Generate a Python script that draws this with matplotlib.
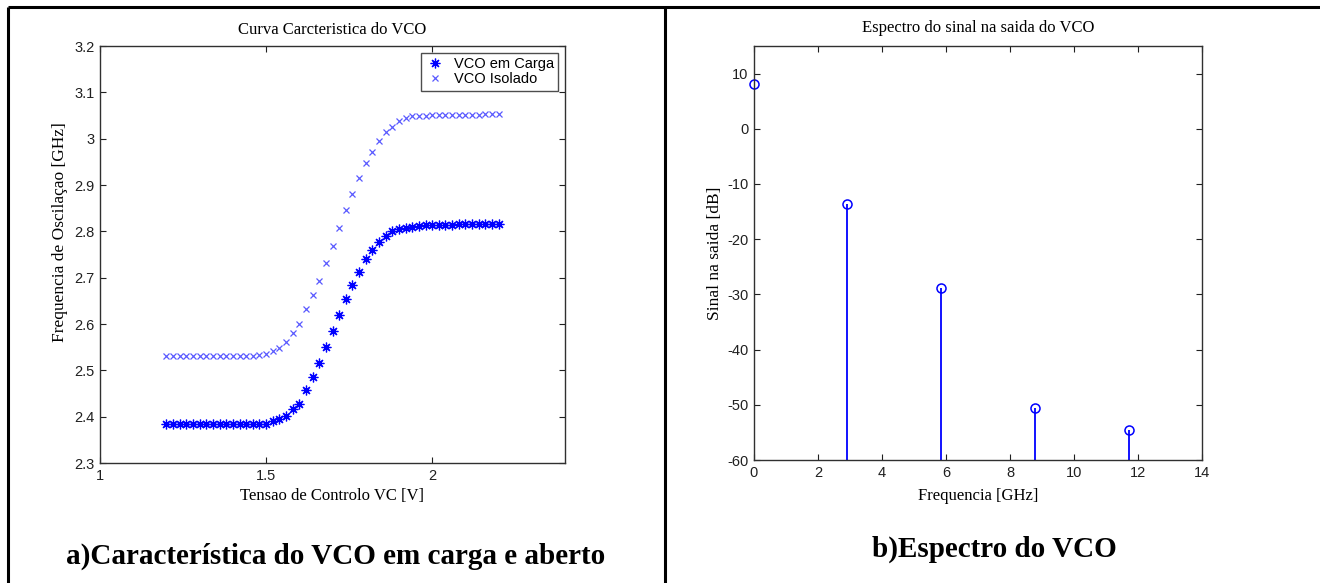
import matplotlib
import numpy as np
import matplotlib.pyplot as plt
from matplotlib.lines import Line2D

matplotlib.use('Agg')
plt.rcParams['axes.unicode_minus'] = False

# tensao de controlo (V)
v_ctrl = [1.20, 1.22, 1.24, 1.26, 1.28, 1.30, 1.32, 1.34, 1.36, 1.38,
          1.40, 1.42, 1.44, 1.46, 1.48, 1.50, 1.52, 1.54, 1.56, 1.58,
          1.60, 1.62, 1.64, 1.66, 1.68, 1.70, 1.72, 1.74, 1.76, 1.78,
          1.80, 1.82, 1.84, 1.86, 1.88, 1.90, 1.92, 1.94, 1.96, 1.98,
          2.00, 2.02, 2.04, 2.06, 2.08, 2.10, 2.12, 2.14, 2.16, 2.18, 2.20]
# frequencia (GHz) - VCO em carga
f_carga = [2.385, 2.385, 2.385, 2.385, 2.385, 2.385, 2.385, 2.385, 2.385, 2.385,
           2.385, 2.385, 2.385, 2.385, 2.385, 2.385, 2.390, 2.394, 2.402, 2.416,
           2.428, 2.457, 2.486, 2.515, 2.551, 2.584, 2.620, 2.655, 2.685, 2.712,
           2.741, 2.760, 2.777, 2.790, 2.800, 2.805, 2.808, 2.810, 2.812, 2.813,
           2.813, 2.814, 2.814, 2.814, 2.815, 2.815, 2.815, 2.815, 2.815, 2.815, 2.815]
# frequencia (GHz) - VCO isolado
f_isolado = [2.532, 2.532, 2.532, 2.532, 2.532, 2.532, 2.532, 2.532, 2.532, 2.532,
             2.532, 2.532, 2.532, 2.532, 2.533, 2.535, 2.542, 2.549, 2.561, 2.580,
             2.601, 2.633, 2.663, 2.692, 2.731, 2.768, 2.807, 2.846, 2.880, 2.915,
             2.947, 2.971, 2.995, 3.014, 3.025, 3.038, 3.044, 3.048, 3.050, 3.050,
             3.051, 3.051, 3.051, 3.052, 3.052, 3.052, 3.052, 3.052, 3.053, 3.053, 3.053]

# espectro na saida do VCO
freq_harm = [0.0, 2.92, 5.84, 8.77, 11.71]
sinal_db = [8.2, -13.7, -28.8, -50.5, -54.5]

serif = 'Liberation Serif'
sans = 'Liberation Sans'

fig = plt.figure(figsize=(13.2, 5.83), dpi=100)
W, H = 1320, 583


def box(x0, y0, x1, y1):
    # converte pixels (origem no topo) para fraccao da figura
    return [x0 / W, 1 - y1 / H, (x1 - x0) / W, (y1 - y0) / H]


def estilo(ax):
    ax.tick_params(direction='in', length=4, width=0.8, top=True, right=True,
                   labelsize=10.5, pad=4, colors='#202020')
    for lab in ax.get_xticklabels() + ax.get_yticklabels():
        lab.set_fontfamily(sans)
    for s in ax.spines.values():
        s.set_linewidth(1.0)
        s.set_color('#303030')


# a) curva caracteristica
ax1 = fig.add_axes(box(100, 46, 565, 463))
ax1.plot(v_ctrl, f_carga, linestyle='none', marker=(8, 2, 0), markersize=7,
         markeredgewidth=0.9, color='#0000ff', label='VCO em Carga')
ax1.plot(v_ctrl, f_isolado, linestyle='none', marker='x', markersize=5,
         markeredgewidth=0.9, color='#5a5aff', label='VCO Isolado')
ax1.set_xlim(1, 2.4)
ax1.set_ylim(2.3, 3.2)
ax1.set_xticks([1, 1.5, 2])
ax1.set_xticklabels(['1', '1.5', '2'])
ax1.set_yticks([2.3, 2.4, 2.5, 2.6, 2.7, 2.8, 2.9, 3.0, 3.1, 3.2])
ax1.set_yticklabels(['2.3', '2.4', '2.5', '2.6', '2.7', '2.8', '2.9', '3', '3.1', '3.2'])
estilo(ax1)
ax1.set_title('Curva Carcteristica do VCO', fontfamily=serif, fontsize=12, pad=9)
ax1.set_xlabel('Tensao de Controlo VC [V]', fontfamily=serif, fontsize=12, labelpad=4)
ax1.set_ylabel('Frequencia de Oscilaçao [GHz]', fontfamily=serif, fontsize=12.5)
ax1.yaxis.set_label_coords(-0.069, 0.554)
leg = ax1.legend(loc='upper right', bbox_to_anchor=(0.985, 0.983), prop={'family': sans, 'size': 10.5},
                 frameon=True, fancybox=False, edgecolor='#202020', borderpad=0.3,
                 handlelength=1.2, handletextpad=0.7, labelspacing=0.05, borderaxespad=0)
leg.get_frame().set_linewidth(1.0)

# b) espectro
ax2 = fig.add_axes(box(754, 46, 1202, 460))
mk, st, bl = ax2.stem(freq_harm, sinal_db, bottom=-60, basefmt=' ')
plt.setp(st, color='#0000ff', linewidth=1.3)
plt.setp(mk, color='#0000ff', marker='o', markerfacecolor='none', markersize=6.5, markeredgewidth=1.1)
ax2.set_xlim(0, 14)
ax2.set_ylim(-60, 15)
ax2.set_xticks([0, 2, 4, 6, 8, 10, 12, 14])
ax2.set_yticks([-60, -50, -40, -30, -20, -10, 0, 10])
estilo(ax2)
ax2.set_title('Espectro do sinal na saida do VCO', fontfamily=serif, fontsize=12, pad=10)
ax2.set_xlabel('Frequencia [GHz]', fontfamily=serif, fontsize=12, labelpad=6)
ax2.set_ylabel('Sinal na saida [dB]', fontfamily=serif, fontsize=12.5)
ax2.yaxis.set_label_coords(-0.069, 0.5)
mk.set_clip_on(False)

# linhas da tabela
for (x0, y0, x1, y1) in [(8, 7, 1320, 7), (8, 7, 8, 583), (665, 7, 665, 583)]:
    fig.add_artist(Line2D([x0 / W, x1 / W], [1 - y0 / H, 1 - y1 / H], color='black',
                          linewidth=2.2, solid_capstyle='butt'))

# legendas das figuras
fig.text(336 / W, 1 - 556 / H, 'a)Característica do VCO em carga e aberto', fontfamily=serif,
         fontsize=21, fontweight='bold', ha='center', va='center')
fig.text(994 / W, 1 - 549 / H, 'b)Espectro do VCO', fontfamily=serif,
         fontsize=21, fontweight='bold', ha='center', va='center')

fig.savefig('out.png', dpi=100, facecolor='white')
